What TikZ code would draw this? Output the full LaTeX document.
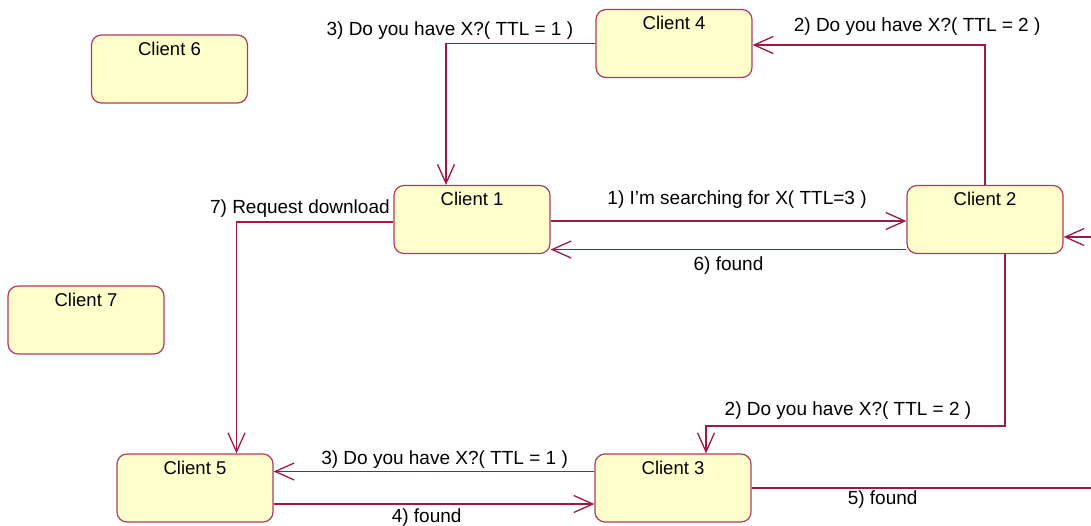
\documentclass[tikz,border=0pt]{standalone}
\usepackage{fontspec}
\setmainfont{Liberation Sans}
\usetikzlibrary{arrows.meta}
\definecolor{linkred}{HTML}{A01848}
\definecolor{boxedge}{HTML}{B03A64}
\definecolor{boxfill}{HTML}{FFFFCC}
\tikzset{
  ctext/.style={font=\fontsize{18.5}{22}\selectfont, anchor=north, inner sep=0pt, yshift=-7pt},
  client/.style={draw=boxedge, fill=boxfill, line width=1.2pt, rounded corners=10pt,
    minimum width=156pt, minimum height=68pt, inner sep=0pt, label={[ctext]north:#1}},
  conn/.style={draw=linkred, line width=1.45pt,
    -{Straight Barb[length=19pt, width=17pt, line width=1.3pt]}},
  lab/.style={font=\fontsize{19}{22}\selectfont, inner sep=0pt, anchor=base},
}
\begin{document}
\begin{tikzpicture}[x=1pt, y=-1pt]
\useasboundingbox (0,0) rectangle (1091,525);
\clip (0,0) rectangle (1091,525);

% clients
\node[client=Client 1] (c1) at (472,219.5) {};
\node[client=Client 2] (c2) at (985,219.5) {};
\node[client=Client 3] (c3) at (673,488) {};
\node[client=Client 4] (c4) at (674,43.5) {};
\node[client=Client 5] (c5) at (195,488) {};
\node[client=Client 6] (c6) at (169.5,69) {};
\node[client=Client 7] (c7) at (86,320) {};

% query and replies between client 1 and client 2
\draw[conn] ([yshift=-1.5pt]c1.east) -- node[lab, pos=0.524, yshift=17pt] {1) I'm searching for X( TTL=3 )} ([yshift=-1.5pt]c2.west);
\draw[conn] ([yshift=-30pt]c2.west) -- node[lab, pos=0.5, yshift=-21pt] {6) found} ([yshift=-30pt]c1.east);

% forwarded queries
\draw[conn] (c2.north) |- node[lab, pos=0.646, yshift=14pt] {2) Do you have X?( TTL = 2 )} ([yshift=-1.5pt]c4.east);
\draw[conn] (c4.west) -| node[lab, pos=0.487, yshift=8pt] {3) Do you have X?( TTL = 1 )} ([xshift=-26pt]c1.north);
\draw[conn] ([xshift=20pt]c2.south) -- ++(0,172)
  -| node[lab, pos=0.2625, yshift=11pt] {2) Do you have X?( TTL = 2 )} ([xshift=33pt]c3.north);
\draw[conn] ([yshift=16.5pt]c3.west) -- node[lab, pos=0.467, yshift=7pt] {3) Do you have X?( TTL = 1 )} ([yshift=16.5pt]c5.east);

% hits travelling back
\draw[conn] ([yshift=-16pt]c5.east) -- node[lab, pos=0.477, yshift=-18pt] {4) found} ([yshift=-16pt]c3.west);
\draw[conn] (c3.east) -- node[lab, pos=0.364, yshift=-16pt] {5) found} ++(360,0)
  |- ([yshift=-17.5pt]c2.east);

% download request
\draw[conn] ([yshift=-2.5pt]c1.west)
  -| node[lab, pos=0, anchor=base east, xshift=-3pt, yshift=9pt] {7) Request download} ([xshift=41.5pt]c5.north);
\end{tikzpicture}
\end{document}
